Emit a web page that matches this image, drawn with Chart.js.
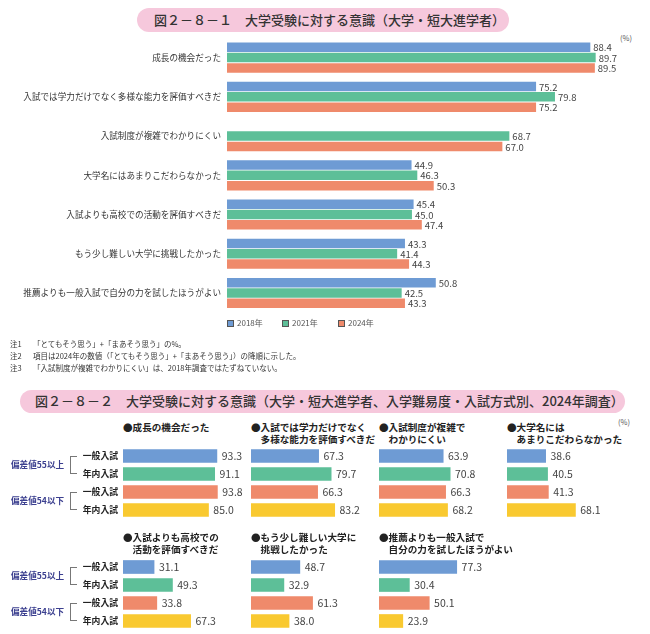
<!DOCTYPE html>
<html><head><meta charset="utf-8">
<script src="https://cdn.jsdelivr.net/npm/chart.js@4"></script>
<style>
html,body{margin:0;padding:0}
body{width:650px;height:634px;position:relative;background:#fff;overflow:hidden;font-family:"Noto Sans CJK JP","Noto Sans",sans-serif;color:#333}
.abs{position:absolute;white-space:nowrap;line-height:1}
.pill{position:absolute;background:#f6c8dc}
canvas{position:absolute}
.lg{position:absolute;font-size:8px;color:#555;line-height:1;white-space:nowrap}
.lg i{display:inline-block;width:5px;height:5px;border:1px solid #555;margin-right:3px;vertical-align:-1px}
.ptitle{position:absolute;font-size:9.6px;font-weight:bold;color:#222;line-height:12px;white-space:nowrap}
.glabel{position:absolute;font-size:8.6px;font-weight:bold;color:#3b3f8f;line-height:1;white-space:nowrap}
.br{position:absolute;border:1px solid #777;border-right:none;width:6px}
.note{position:absolute;font-size:7.5px;color:#333;line-height:1;white-space:nowrap}
</style></head>
<body>
<div class="pill" style="left:137px;top:8px;width:372px;height:24px;border-radius:12px"></div>
<div class="abs" id="title1" style="left:154px;top:13px;font-size:13px;font-weight:500;color:#333"></div>
<div class="abs" style="left:620px;top:34px;font-size:7.5px;color:#555">(%)</div>
<canvas id="topChart" width="650" height="303" style="left:0;top:24px"></canvas>
<div id="legend"></div>
<div id="notes"></div>

<div class="pill" style="left:20px;top:390px;width:605px;height:23px;border-radius:12px"></div>
<div class="abs" id="title2" style="left:35px;top:394px;font-size:13px;font-weight:500;color:#333"></div>
<div class="abs" style="left:618px;top:418px;font-size:7.5px;color:#555">(%)</div>
<div id="panels"></div>

<script>
// ---------- data ----------
const title1 = '図２－８－１　大学受験に対する意識（大学・短大進学者）';
const title2 = '図２－８－２　大学受験に対する意識（大学・短大進学者、入学難易度・入試方式別、2024年調査）';

const topCategories = [
  '成長の機会だった',
  '入試では学力だけでなく多様な能力を評価すべきだ',
  '入試制度が複雑でわかりにくい',
  '大学名にはあまりこだわらなかった',
  '入試よりも高校での活動を評価すべきだ',
  'もう少し難しい大学に挑戦したかった',
  '推薦よりも一般入試で自分の力を試したほうがよい'
];
const yearLabels = ['2018年', '2021年', '2024年'];
const values2018 = [88.4, 75.2, null, 44.9, 45.4, 43.3, 50.8];
const values2021 = [89.7, 79.8, 68.7, 46.3, 45.0, 41.4, 42.5];
const values2024 = [89.5, 75.2, 67.0, 50.3, 47.4, 44.3, 43.3];

const notes = [
  ['注1', '「とてもそう思う」+「まあそう思う」の%。'],
  ['注2', '項目は2024年の数値（「とてもそう思う」+「まあそう思う」）の降順に示した。'],
  ['注3', '「入試制度が複雑でわかりにくい」は、2018年調査ではたずねていない。']
];

const methodLabels = ['一般入試', '年内入試', '一般入試', '年内入試'];
const levelLabels = ['偏差値55以上', '偏差値54以下'];

const panelTitles = [
  ['●成長の機会だった'],
  ['●入試では学力だけでなく', '多様な能力を評価すべきだ'],
  ['●入試制度が複雑で', 'わかりにくい'],
  ['●大学名には', 'あまりこだわらなかった'],
  ['●入試よりも高校での', '活動を評価すべきだ'],
  ['●もう少し難しい大学に', '挑戦したかった'],
  ['●推薦よりも一般入試で', '自分の力を試したほうがよい']
];
const growthValues   = [93.3, 91.1, 93.8, 85.0];
const diverseValues  = [67.3, 79.7, 66.3, 83.2];
const complexValues  = [63.9, 70.8, 66.3, 68.2];
const nameValues     = [38.6, 40.5, 41.3, 68.1];
const schoolValues   = [31.1, 49.3, 33.8, 67.3];
const harderValues   = [48.7, 32.9, 61.3, 38.0];
const generalValues  = [77.3, 30.4, 50.1, 23.9];

// ---------- style ----------
const BLUE = '#6e9bd4', GREEN = '#5dbf98', ORANGE = '#ef8a6b', YELLOW = '#f9c930';
const FONT = '"Noto Sans CJK JP", "Noto Sans", sans-serif';

document.getElementById('title1').textContent = title1;
document.getElementById('title2').textContent = title2;

const valueLabels = {
  id: 'valueLabels',
  afterDatasetsDraw(chart, args, opts) {
    const ctx = chart.ctx;
    ctx.save();
    ctx.font = opts.font;
    ctx.fillStyle = opts.color;
    ctx.textAlign = 'left';
    ctx.textBaseline = 'middle';
    chart.data.datasets.forEach((ds, i) => {
      const meta = chart.getDatasetMeta(i);
      meta.data.forEach((el, j) => {
        const v = ds.data[j];
        if (v === null || v === undefined) return;
        ctx.fillText(v.toFixed(1), el.x + opts.offset, el.y + 0.5);
      });
    });
    ctx.restore();
  }
};

// ---------- top chart ----------
new Chart(document.getElementById('topChart'), {
  type: 'bar',
  data: {
    labels: topCategories,
    datasets: [
      { label: yearLabels[0], data: values2018, backgroundColor: BLUE },
      { label: yearLabels[1], data: values2021, backgroundColor: GREEN },
      { label: yearLabels[2], data: values2024, backgroundColor: ORANGE }
    ]
  },
  options: {
    indexAxis: 'y',
    responsive: false,
    animation: false,
    devicePixelRatio: 1,
    categoryPercentage: 0.79,
    barPercentage: 0.92,
    layout: { padding: { top: 14, bottom: 14.4, left: 0, right: 12 } },
    plugins: {
      legend: { display: false },
      tooltip: { enabled: false },
      valueLabels: { font: '9.5px ' + FONT, color: '#444', offset: 3 }
    },
    scales: {
      x: { min: 0, max: 100, display: false },
      y: {
        grid: { display: false, drawTicks: false },
        border: { display: false },
        ticks: { padding: 6, color: '#333', font: { size: 8.6, family: FONT } },
        afterFit(s) { s.width = 227; }
      }
    }
  },
  plugins: [valueLabels]
});

// legend
const lg = document.getElementById('legend');
const lgX = [227, 282, 338];
[BLUE, GREEN, ORANGE].forEach((c, i) => {
  const d = document.createElement('div');
  d.className = 'lg';
  d.style.left = lgX[i] + 'px';
  d.style.top = '319px';
  d.innerHTML = '<i style="background:' + c + '"></i>' + yearLabels[i];
  lg.appendChild(d);
});

// notes
const nt = document.getElementById('notes');
notes.forEach((n, i) => {
  const y = 340 + i * 12;
  const a = document.createElement('div');
  a.className = 'note'; a.style.left = '10px'; a.style.top = y + 'px';
  a.textContent = n[0];
  const b = document.createElement('div');
  b.className = 'note'; b.style.left = '33px'; b.style.top = y + 'px';
  b.textContent = n[1];
  nt.appendChild(a); nt.appendChild(b);
});

// ---------- panels ----------
const panelValues = [growthValues, diverseValues, complexValues, nameValues, schoolValues, harderValues, generalValues];
const colX = [123, 251, 379, 507];
const rowTop = [447, 558];   // chart-area tops
const titleTop = [421, 531];
const PAD = 12;
const pc = document.getElementById('panels');

panelValues.forEach((vals, k) => {
  const row = k < 4 ? 0 : 1;
  const col = k < 4 ? k : k - 4;
  const x0 = colX[col];
  const first = col === 0;
  panelTitles[k].forEach((line, li) => {
    const t = document.createElement('div');
    t.className = 'ptitle';
    t.style.left = (x0 + (li > 0 ? 9.6 : 0)) + 'px';
    t.style.top = (titleTop[row] + li * 12) + 'px';
    t.textContent = line;
    pc.appendChild(t);
  });
  const cv = document.createElement('canvas');
  const w = first ? 250 : 128;
  cv.width = w; cv.height = 72 + 2 * PAD;
  cv.style.left = (first ? 0 : x0) + 'px';
  cv.style.top = (rowTop[row] - PAD) + 'px';
  pc.appendChild(cv);
  new Chart(cv, {
    type: 'bar',
    data: {
      labels: methodLabels,
      datasets: [{ data: vals, backgroundColor: [BLUE, GREEN, ORANGE, YELLOW] }]
    },
    options: {
      indexAxis: 'y',
      responsive: false,
      animation: false,
      devicePixelRatio: 1,
      categoryPercentage: 1,
      barPercentage: 0.76,
      layout: { padding: { top: PAD, bottom: PAD, left: 0, right: first ? 26 : 27 } },
      plugins: {
        legend: { display: false },
        tooltip: { enabled: false },
        valueLabels: { font: '10.5px ' + FONT, color: '#444', offset: 4.5 }
      },
      scales: {
        x: { min: 0, max: 100, display: false },
        y: first ? {
          grid: { display: false, drawTicks: false },
          border: { display: false },
          ticks: { padding: 5, color: '#222', font: { size: 8.8, family: FONT, weight: 'bold' } },
          afterFit(s) { s.width = 123; }
        } : { display: false }
      }
    },
    plugins: [valueLabels]
  });
  if (first) {
    levelLabels.forEach((lab, g) => {
      const c1 = rowTop[row] + 9 + g * 36;
      const c2 = c1 + 18;
      const br = document.createElement('div');
      br.className = 'br';
      br.style.left = '70px';
      br.style.top = c1 + 'px';
      br.style.height = (c2 - c1 - 2) + 'px';
      pc.appendChild(br);
      const gl = document.createElement('div');
      gl.className = 'glabel';
      gl.style.left = '11px';
      gl.style.top = ((c1 + c2) / 2 - 5) + 'px';
      gl.textContent = lab;
      pc.appendChild(gl);
    });
  }
});
</script>
</body></html>
